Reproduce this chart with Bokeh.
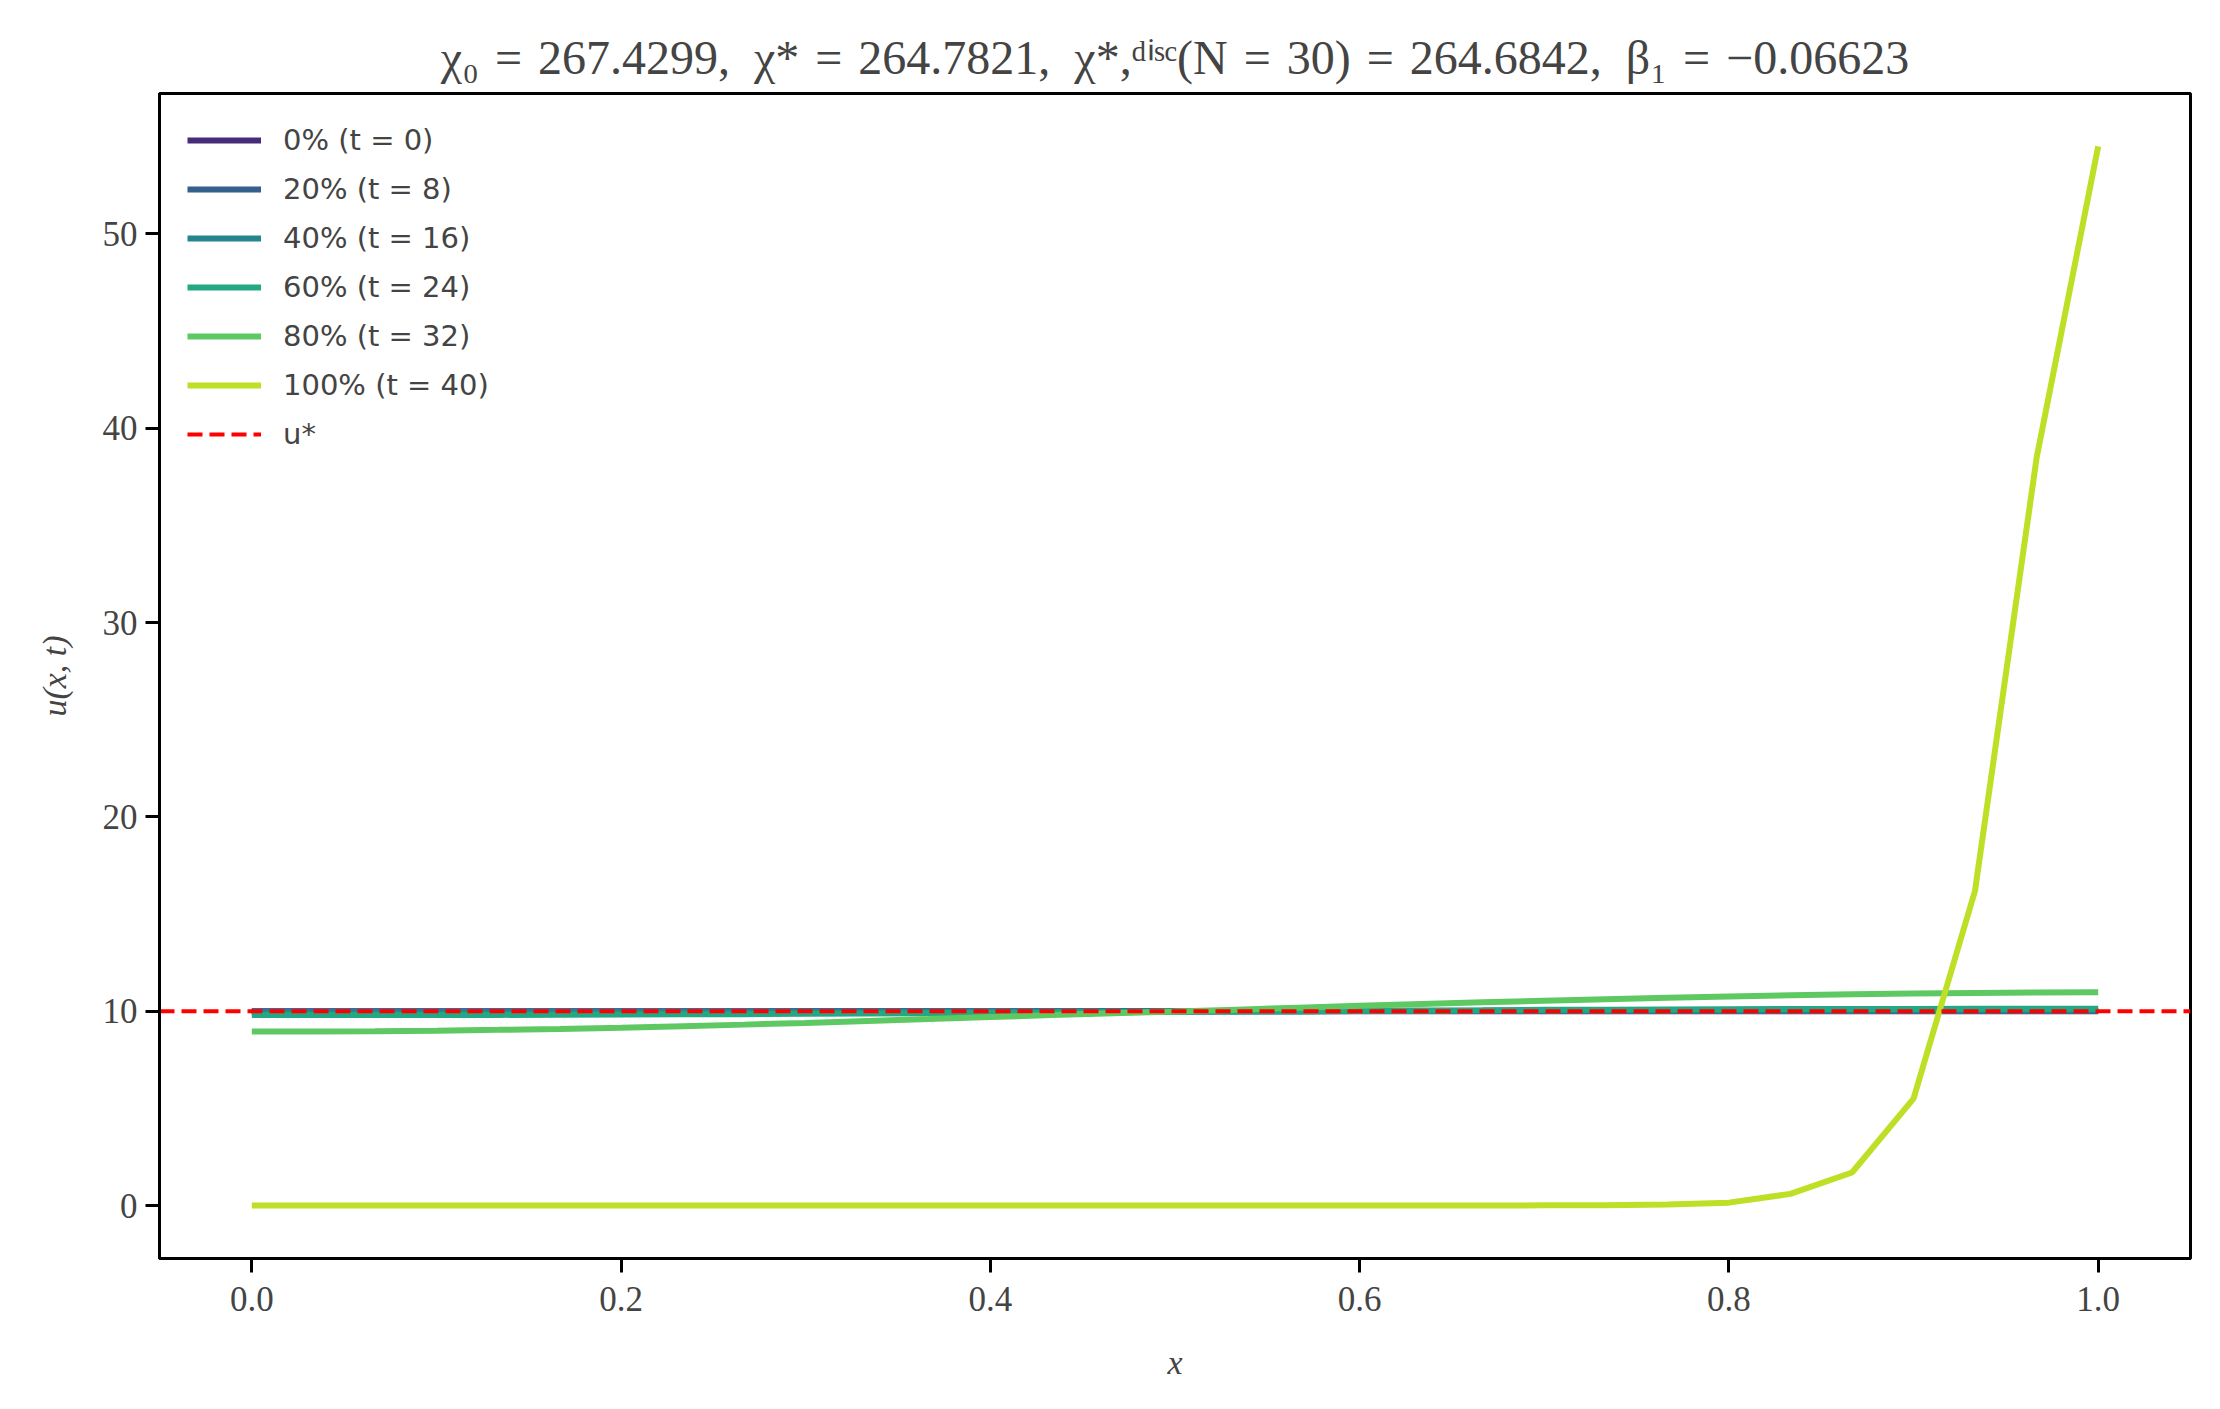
from bokeh.models import (ColumnDataSource, Range1d, FixedTicker, Legend, LegendItem,
                          PrintfTickFormatter)
from bokeh.plotting import figure
from bokeh.embed import file_html
from bokeh.resources import INLINE

# grid x_i = i/30, N = 30
x = [0.0, 0.0333, 0.0667, 0.1, 0.1333, 0.1667, 0.2, 0.2333, 0.2667, 0.3,
     0.3333, 0.3667, 0.4, 0.4333, 0.4667, 0.5, 0.5333, 0.5667, 0.6, 0.6333,
     0.6667, 0.7, 0.7333, 0.7667, 0.8, 0.8333, 0.8667, 0.9, 0.9333, 0.9667, 1.0]

u_0 = [10.0] * 31
u_8 = [9.99, 9.99, 9.99, 9.99, 9.99, 9.99, 9.99, 9.99, 9.99, 9.995,
       9.995, 9.995, 9.995, 10.0, 10.0, 10.0, 10.0, 10.0, 10.005, 10.005,
       10.005, 10.005, 10.01, 10.01, 10.01, 10.01, 10.01, 10.01, 10.01, 10.01, 10.01]
u_16 = [9.95, 9.95, 9.95, 9.95, 9.95, 9.96, 9.96, 9.96, 9.96, 9.97,
        9.97, 9.97, 9.98, 9.98, 9.99, 9.99, 10.0, 10.0, 10.01, 10.01,
        10.02, 10.02, 10.02, 10.03, 10.03, 10.03, 10.03, 10.04, 10.04, 10.04, 10.04]
u_24 = [9.80, 9.80, 9.80, 9.81, 9.81, 9.82, 9.83, 9.84, 9.85, 9.87,
        9.88, 9.90, 9.92, 9.93, 9.95, 9.97, 9.99, 10.00, 10.02, 10.04,
        10.05, 10.07, 10.08, 10.09, 10.10, 10.11, 10.12, 10.12, 10.13, 10.13, 10.13]
u_32 = [8.95, 8.96, 8.97, 9.00, 9.04, 9.09, 9.15, 9.23, 9.31, 9.40,
        9.50, 9.60, 9.70, 9.80, 9.90, 9.98, 10.08, 10.18, 10.28, 10.37,
        10.46, 10.54, 10.62, 10.69, 10.76, 10.82, 10.87, 10.91, 10.94, 10.96, 10.97]
u_40 = [0.0, 0.0, 0.0, 0.0, 0.0, 0.0, 0.0, 0.0, 0.0, 0.0,
        0.0, 0.0, 0.0, 0.0, 0.0, 0.0, 0.0, 0.0, 0.0, 0.0,
        0.0, 0.01, 0.02, 0.05, 0.15, 0.6, 1.7, 5.5, 16.2, 38.5, 54.5]

labels = ["0% (t = 0)", "20% (t = 8)", "40% (t = 16)", "60% (t = 24)",
          "80% (t = 32)", "100% (t = 40)"]
colors = ["#472c7a", "#355f8d", "#25858e", "#22a884", "#5ec962", "#bddf26"]
u_star = 10.0

eq = "\u2004=\u2004"
sep = ",\u2002"
title = ("χ\u2080" + eq + "267.4299" + sep + "χ*" + eq + "264.7821" + sep
         + "χ*,\u1d48\u2071\u02e2\u1d9c(N" + eq + "30)" + eq + "264.6842" + sep
         + "β\u2081" + eq + "\u22120.06623")

series = [u_0, u_8, u_16, u_24, u_32, u_40]

# matplotlib-like 5% margins
all_y = [v for s in series for v in s]
ypad = 0.05 * (max(all_y) - min(all_y))
xpad = 0.05 * (max(x) - min(x))
x_lo, x_hi = min(x) - xpad, max(x) + xpad

p = figure(
    width=2204, height=1393,
    x_range=Range1d(x_lo, x_hi),
    y_range=Range1d(min(all_y) - ypad, max(all_y) + ypad),
    output_backend="svg", toolbar_location=None,
    min_border_left=159, min_border_right=14,
    min_border_top=93, min_border_bottom=135,
)
p.grid.visible = False
p.outline_line_color = "black"
p.outline_line_width = 3

p.title.text = title
p.title.align = "center"
p.title.text_font = "Liberation Serif"
p.title.text_font_size = "48px"
p.title.text_font_style = "normal"
p.title.standoff = 20

p.xaxis.ticker = FixedTicker(ticks=[0.0, 0.2, 0.4, 0.6, 0.8, 1.0])
p.xaxis.formatter = PrintfTickFormatter(format="%.1f")
p.yaxis.ticker = FixedTicker(ticks=[0, 10, 20, 30, 40, 50])
p.xaxis.axis_label = "x"
p.yaxis.axis_label = "u(x, t)"
for ax in (p.xaxis[0], p.yaxis[0]):
    ax.axis_line_color = "black"
    ax.axis_line_width = 3
    ax.major_tick_out = 14
    ax.major_tick_in = 0
    ax.major_tick_line_width = 3
    ax.minor_tick_line_color = None
    ax.major_label_text_font = "Liberation Serif"
    ax.major_label_text_font_size = "35px"
    ax.axis_label_text_font = "Liberation Serif"
    ax.axis_label_text_font_size = "34px"
    ax.axis_label_text_font_style = "italic"
p.xaxis.major_label_standoff = 14
p.yaxis.major_label_standoff = 8
p.xaxis.axis_label_standoff = 30
p.yaxis.axis_label_standoff = 27

items = []
for lab, col, ys in zip(labels, colors, series):
    src = ColumnDataSource(data=dict(x=x, y=ys))
    r = p.line(x="x", y="y", source=src, line_color=col, line_width=6)
    items.append(LegendItem(label=lab, renderers=[r]))

ref_src = ColumnDataSource(data=dict(x=[x_lo, x_hi], y=[u_star, u_star]))
r_ref = p.line(x="x", y="y", source=ref_src, line_color="#ff0000",
               line_width=4, line_dash="15 7")
items.append(LegendItem(label="u*", renderers=[r_ref]))

row_h = 49
frame_h = 1393 - 93 - 135
legend = Legend(items=items, location=(28, frame_h - 22 - row_h * len(items)))
legend.margin = 0
legend.padding = 0
legend.spacing = 0
legend.label_height = row_h
legend.glyph_height = 30
legend.glyph_width = 74
legend.label_standoff = 22
legend.label_text_font = "DejaVu Sans"
legend.label_text_font_size = "29px"
legend.border_line_alpha = 0
legend.background_fill_alpha = 0
p.add_layout(legend)

open("out.html", "w").write(file_html(p, INLINE))
